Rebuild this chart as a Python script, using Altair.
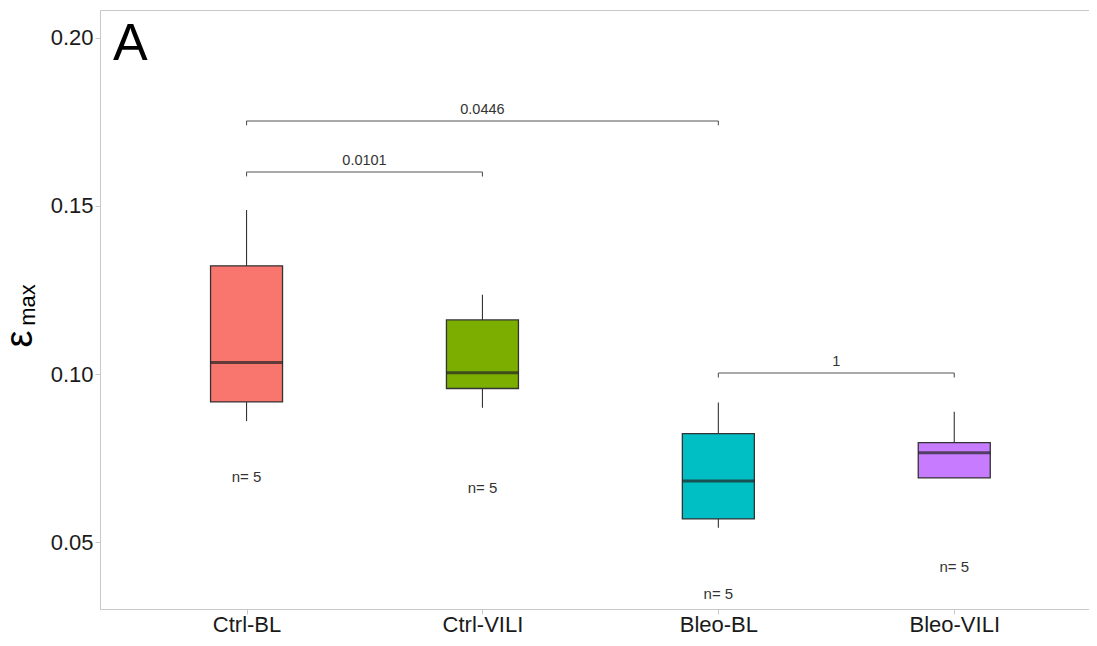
import json
import altair as alt
import pandas as pd

# ---- data ----
categories = ["Ctrl-BL", "Ctrl-VILI", "Bleo-BL", "Bleo-VILI"]
whisker_low = [0.0860, 0.0900, 0.0543, 0.0691]
q1 = [0.0917, 0.0957, 0.0569, 0.0691]
median = [0.1034, 0.1004, 0.0682, 0.0766]
q3 = [0.1322, 0.1161, 0.0823, 0.0796]
whisker_high = [0.1488, 0.1236, 0.0915, 0.0888]
n_labels = ["n= 5", "n= 5", "n= 5", "n= 5"]
n_label_y = [0.0694, 0.0662, 0.0345, 0.0426]
box_colors = ["#F8766D", "#7CAE00", "#00BFC4", "#C77CFF"]

bracket_from = ["Ctrl-BL", "Ctrl-BL", "Bleo-BL"]
bracket_to = ["Bleo-BL", "Ctrl-VILI", "Bleo-VILI"]
bracket_y = [0.1753, 0.1601, 0.1003]
bracket_p = ["0.0446", "0.0101", "1"]

y_ticks = [0.05, 0.10, 0.15, 0.20]
y_domain = [0.0301, 0.2083]
x_domain = [0.40, 4.55]

# ---- tables ----
boxes = pd.DataFrame({
    "cat": categories,
    "idx": list(range(1, len(categories) + 1)),
    "lo": whisker_low, "q1": q1, "med": median, "q3": q3, "hi": whisker_high,
    "n": n_labels, "ny": n_label_y,
})
brackets = pd.DataFrame({
    "x1": [categories.index(c) + 1 for c in bracket_from],
    "x2": [categories.index(c) + 1 for c in bracket_to],
    "y": bracket_y,
    "p": bracket_p,
})

FONT = "Liberation Sans"
label_expr = json.dumps(categories) + "[datum.value - 1]"

xscale = alt.Scale(domain=x_domain, nice=False, zero=False)
yscale = alt.Scale(domain=y_domain, nice=False, zero=False)

x_enc = alt.X("idx:Q", scale=xscale, title=None,
              axis=alt.Axis(values=list(range(1, len(categories) + 1)),
                            labelExpr=label_expr, labelPadding=0))
y_axis = alt.Axis(values=y_ticks, format=".2f", labelPadding=2)

base = alt.Chart(boxes)

whiskers = base.mark_rule(color="#333333", strokeWidth=1.1).encode(
    x=x_enc,
    y=alt.Y("lo:Q", scale=yscale, axis=y_axis, title=None),
    y2="hi:Q",
)
box = base.mark_bar(size=72, stroke="#333333", strokeWidth=1.3).encode(
    x=x_enc,
    y=alt.Y("q1:Q", scale=yscale, title=None),
    y2="q3:Q",
    color=alt.Color("cat:N", scale=alt.Scale(domain=categories, range=box_colors), legend=None),
)
med = base.mark_tick(size=72, thickness=3, color="#222222", orient="horizontal").encode(
    x=x_enc,
    y=alt.Y("med:Q", scale=yscale, title=None),
)
nlab = base.mark_text(fontSize=15, font=FONT, color="#333333").encode(
    x=x_enc,
    y=alt.Y("ny:Q", scale=yscale, title=None),
    text="n:N",
)

bbase = alt.Chart(brackets).transform_calculate(
    yd="datum.y - 0.0013", xm="(datum.x1 + datum.x2) / 2"
)
bline = bbase.mark_rule(color="#555555", strokeWidth=1.1).encode(
    x=alt.X("x1:Q", scale=xscale, title=None), x2="x2:Q",
    y=alt.Y("y:Q", scale=yscale, title=None),
)
bleft = bbase.mark_rule(color="#555555", strokeWidth=1.1).encode(
    x=alt.X("x1:Q", scale=xscale, title=None),
    y=alt.Y("y:Q", scale=yscale, title=None), y2="yd:Q",
)
bright = bbase.mark_rule(color="#555555", strokeWidth=1.1).encode(
    x=alt.X("x2:Q", scale=xscale, title=None),
    y=alt.Y("y:Q", scale=yscale, title=None), y2="yd:Q",
)
btext = bbase.mark_text(fontSize=14.5, font=FONT, color="#333333", baseline="bottom", dy=-4).encode(
    x=alt.X("xm:Q", scale=xscale, title=None),
    y=alt.Y("y:Q", scale=yscale, title=None),
    text="p:N",
)

panel = alt.Chart(pd.DataFrame({"t": ["A"]})).mark_text(
    fontSize=52, font=FONT, color="#000000", align="left", baseline="alphabetic"
).encode(x=alt.value(13), y=alt.value(50), text="t:N")

eps = alt.Chart(pd.DataFrame({"t": ["ε"]})).mark_text(
    fontSize=38, font=FONT, color="#000000", angle=270, align="center", baseline="alphabetic"
).encode(x=alt.value(-68), y=alt.value(329), text="t:N")
sub = alt.Chart(pd.DataFrame({"t": ["max"]})).mark_text(
    fontSize=22, font=FONT, color="#000000", angle=270, align="center", baseline="alphabetic"
).encode(x=alt.value(-65), y=alt.value(295), text="t:N")

chart = alt.layer(
    whiskers, box, med, nlab, bline, bleft, bright, btext, panel, eps, sub
).properties(
    width=989, height=599,
    autosize=alt.AutoSizeParams(type="none"),
    padding={"left": 92, "top": 2, "right": 0, "bottom": 29},
).configure_view(
    stroke="#c8c8c8", strokeWidth=1
).configure_axis(
    grid=False, domain=False, tickColor="#c8c8c8", tickSize=5,
    labelFont=FONT, labelFontSize=22, labelColor="#1a1a1a",
)

chart.save("out.html", embed_options={"renderer": "svg", "actions": False})
